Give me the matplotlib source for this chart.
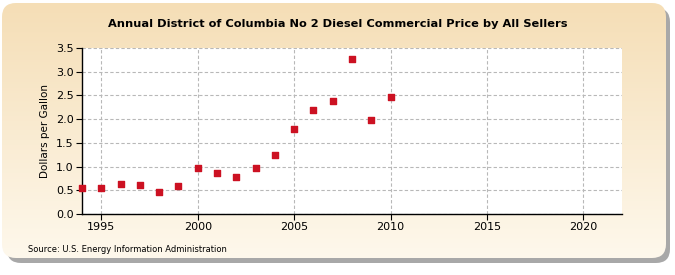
import numpy as np
import matplotlib.pyplot as plt
from matplotlib.patches import FancyBboxPatch

years = [1994, 1995, 1996, 1997, 1998, 1999, 2000, 2001, 2002, 2003,
         2004, 2005, 2006, 2007, 2008, 2009, 2010]
prices = [0.54, 0.54, 0.64, 0.62, 0.47, 0.58, 0.96, 0.86, 0.77, 0.98,
          1.25, 1.80, 2.20, 2.39, 3.26, 1.99, 2.47]
xticks = [1995, 2000, 2005, 2010, 2015, 2020]
yticks = [0.0, 0.5, 1.0, 1.5, 2.0, 2.5, 3.0, 3.5]

fig = plt.figure(figsize=(6.75, 2.75), dpi=100)
fig.patch.set_facecolor('white')

# background card with shadow and vertical gradient
bg = fig.add_axes([0, 0, 1, 1], zorder=-10)
bg.set_xlim(0, 675)
bg.set_ylim(275, 0)
bg.axis('off')
shadow = FancyBboxPatch((7, 8), 663, 255, boxstyle='round,pad=0,rounding_size=14',
                        facecolor='#a8a8a8', edgecolor='none')
bg.add_patch(shadow)
card = FancyBboxPatch((2, 3), 664, 255, boxstyle='round,pad=0,rounding_size=14',
                      facecolor='none', edgecolor='none')
bg.add_patch(card)
top = np.array([245, 222, 182]) / 255
bot = np.array([254, 248, 236]) / 255
t = np.linspace(0, 1, 256)[:, None]
grad = (top * (1 - t) + bot * t)[:, None, :]
im = bg.imshow(grad, extent=[2, 666, 258, 3], aspect='auto', zorder=1)
im.set_clip_path(card)

ax = fig.add_axes([82 / 675, 61 / 275, 540 / 675, 166 / 275])
ax.set_facecolor('white')
ax.scatter(years, prices, marker='s', s=16, color='#cc1122', zorder=3, clip_on=False)
ax.set_xlim(1994, 2022)
ax.set_ylim(0, 3.5)
ax.set_xticks(xticks)
ax.set_yticks(yticks)
ax.set_yticklabels([f'{v:.1f}' for v in yticks])
ax.grid(True, linestyle=(0, (3, 2)), color='#b8b8b8', linewidth=0.8)
ax.set_axisbelow(True)
for s in ['top', 'right']:
    ax.spines[s].set_visible(False)
ax.spines['left'].set_linewidth(1.0)
ax.spines['bottom'].set_linewidth(1.0)
ax.tick_params(labelsize=8, length=4, color='black', pad=2)
ax.set_ylabel('Dollars per Gallon', fontsize=7.5)

fig.text(0.5, 1 - 24 / 275, 'Annual District of Columbia No 2 Diesel Commercial Price by All Sellers',
         ha='center', va='center', fontsize=8.2, fontweight='bold')
fig.text(28 / 675, 1 - 249 / 275, 'Source: U.S. Energy Information Administration',
         ha='left', va='center', fontsize=6)

fig.savefig('out.png', dpi=100)
